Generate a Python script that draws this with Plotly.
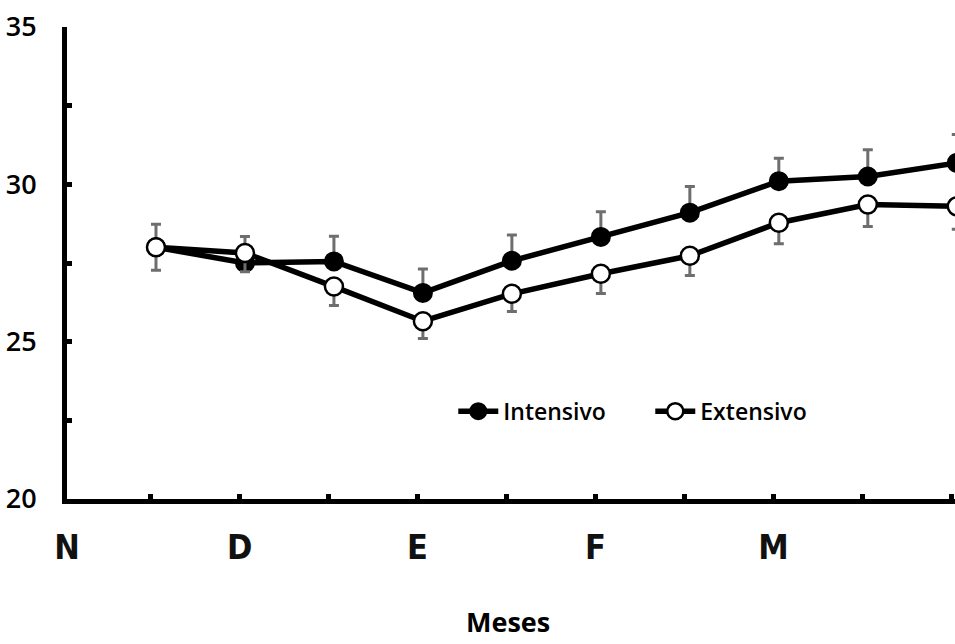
import plotly.graph_objects as go

# data
month_pos = list(range(1, 11))
intensivo = [28.0, 27.5, 27.55, 26.55, 27.57, 28.33, 29.1, 30.1, 30.25, 30.68]
intensivo_err = [0.73, 0.84, 0.8, 0.76, 0.82, 0.8, 0.83, 0.73, 0.85, 0.9]
extensivo = [28.0, 27.82, 26.75, 25.65, 26.52, 27.16, 27.73, 28.78, 29.36, 29.3]
extensivo_err = [0.73, 0.6, 0.6, 0.55, 0.56, 0.63, 0.63, 0.67, 0.7, 0.73]
x_tick_labels = ["N", "", "D", "", "E", "", "F", "", "M", "", ""]
y_tick_vals = [20, 22.5, 25, 27.5, 30, 32.5, 35]
y_tick_labels = ["20", "", "25", "", "30", "", "35"]

FONT = "Open Sans"
NARROW = "Liberation Sans Narrow, DejaVu Sans Condensed, Open Sans"

fig = go.Figure()
fig.add_trace(go.Scatter(
    x=month_pos, y=intensivo, name="Intensivo", mode="lines+markers",
    line=dict(color="black", width=5.5),
    marker=dict(symbol="circle", size=18, color="black", line=dict(color="black", width=2)),
    error_y=dict(type="data", array=intensivo_err, arrayminus=[0] * len(intensivo_err),
                 symmetric=False, color="#6e6e6e", thickness=3, width=5),
))
fig.add_trace(go.Scatter(
    x=month_pos, y=extensivo, name="Extensivo", mode="lines+markers",
    line=dict(color="black", width=5.5),
    marker=dict(symbol="circle", size=18, color="white", line=dict(color="black", width=2.5)),
    error_y=dict(type="data", array=[0] * len(extensivo_err), arrayminus=extensivo_err,
                 symmetric=False, color="#6e6e6e", thickness=3, width=5),
))

tick_positions = [0] + [i - 0.06 for i in range(1, 11)]

fig.update_layout(
    width=955, height=644,
    margin=dict(l=67, r=0, t=27, b=145),
    plot_bgcolor="white", paper_bgcolor="white",
    showlegend=True,
    legend=dict(orientation="h", x=0.435, y=0.186, xanchor="left", yanchor="middle",
                font=dict(family=FONT, size=23, color="black", weight=600),
                bgcolor="rgba(0,0,0,0)", tracegroupgap=0, itemwidth=40,
                entrywidthmode="pixels", entrywidth=142),
    xaxis=dict(range=[0, 9.98], showgrid=False, zeroline=False,
               showline=True, linecolor="black", linewidth=5,
               ticks="inside", ticklen=5, tickwidth=5, tickcolor="black",
               tickvals=tick_positions, ticktext=x_tick_labels,
               ticklabelstandoff=14,
               tickfont=dict(family=NARROW, size=34, color="#111", weight=700)),
    yaxis=dict(range=[20, 35], showgrid=False, zeroline=False,
               showline=True, linecolor="black", linewidth=5,
               ticks="inside", ticklen=5, tickwidth=5, tickcolor="black",
               tickvals=y_tick_vals, ticktext=y_tick_labels,
               ticklabelstandoff=20,
               tickfont=dict(family=FONT, size=27, color="black", weight=600)),
    annotations=[dict(text="Meses", xref="paper", yref="paper", x=0.497, y=-0.303,
                      xanchor="center", yanchor="bottom", showarrow=False,
                      font=dict(family=FONT, size=27, color="black", weight=700))],
)

fig.write_html("out.html", config={"displayModeBar": False},
               post_script="document.body.style.margin='0';document.body.style.overflow='hidden';")
